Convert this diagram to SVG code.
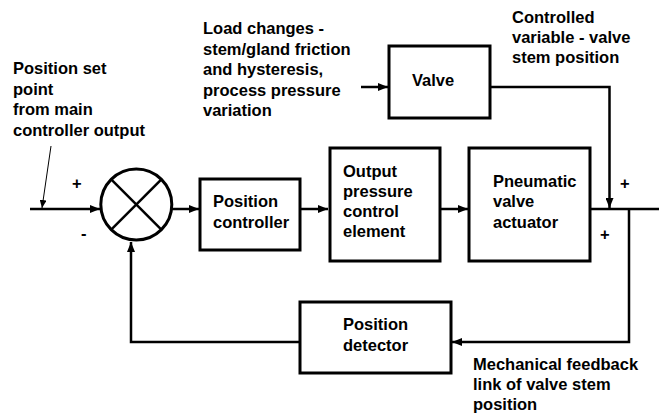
<svg xmlns="http://www.w3.org/2000/svg" width="659" height="414" viewBox="0 0 659 414">
<defs>
<style>
text{font-family:"Liberation Sans",Arial,sans-serif;font-weight:bold;font-size:16.5px;fill:#000}
.box{fill:#fff;stroke:#000;stroke-width:3}
.ln{fill:none;stroke:#000;stroke-width:2.5}
.thin{fill:none;stroke:#000;stroke-width:1}
</style>
<marker id="ah" markerWidth="10" markerHeight="8" refX="10" refY="4" orient="auto" markerUnits="userSpaceOnUse">
<path d="M0,0 L10,4 L0,8 Z" fill="#000"/>
</marker>
<marker id="ahs" markerWidth="8" markerHeight="7" refX="8" refY="3.5" orient="auto" markerUnits="userSpaceOnUse">
<path d="M0,0 L8,3.5 L0,7 Z" fill="#000"/>
</marker>
</defs>
<rect width="659" height="414" fill="#fff"/>

<g id="connectors">
<line class="ln" x1="30" y1="209" x2="100" y2="209" marker-end="url(#ah)"/>
<line class="thin" x1="51" y1="146" x2="42" y2="208" marker-end="url(#ahs)"/>
<line class="ln" x1="172" y1="209" x2="199" y2="209" marker-end="url(#ah)"/>
<line class="ln" x1="300" y1="209" x2="328" y2="209" marker-end="url(#ah)"/>
<line class="ln" x1="440" y1="209" x2="468" y2="209" marker-end="url(#ah)"/>
<line class="ln" x1="590" y1="209" x2="659" y2="209"/>
<line class="ln" x1="361" y1="87" x2="388" y2="87" marker-end="url(#ah)"/>
<polyline class="ln" points="490,87 609.5,87 609.5,208" marker-end="url(#ah)"/>
<polyline class="ln" points="629,209 629,342 452,342" marker-end="url(#ah)"/>
<polyline class="ln" points="300,342 131,342 131,242" marker-end="url(#ah)"/>
</g>

<g id="sum">
<circle cx="136.3" cy="204.5" r="35.5" fill="#fff" stroke="#000" stroke-width="3"/>
<line class="ln" x1="111.2" y1="179.4" x2="161.4" y2="229.6" stroke-width="3"/>
<line class="ln" x1="161.4" y1="179.4" x2="111.2" y2="229.6" stroke-width="3"/>
</g>

<g id="position-controller">
<rect class="box" x="200" y="179" width="100" height="71"/>
<text x="213" y="207">Position</text>
<text x="213" y="228">controller</text>
</g>

<g id="output-pressure">
<rect class="box" x="330" y="148" width="110" height="113"/>
<text x="343" y="177">Output</text>
<text x="343" y="197">pressure</text>
<text x="343" y="217">control</text>
<text x="343" y="237">element</text>
</g>

<g id="pneumatic-actuator">
<rect class="box" x="469" y="148" width="121" height="113"/>
<text x="493" y="187">Pneumatic</text>
<text x="493" y="207">valve</text>
<text x="493" y="228">actuator</text>
</g>

<g id="valve">
<rect class="box" x="389" y="46" width="101" height="72"/>
<text x="412" y="86">Valve</text>
</g>

<g id="position-detector">
<rect class="box" x="300" y="302" width="151" height="71"/>
<text x="343" y="330">Position</text>
<text x="343" y="351">detector</text>
</g>

<g id="labels">
<text x="13" y="74">Position set</text>
<text x="13" y="94.5">point</text>
<text x="13" y="115">from main</text>
<text x="13" y="135.5">controller output</text>
<text x="203" y="34">Load changes -</text>
<text x="203" y="54.5">stem/gland friction</text>
<text x="203" y="75">and hysteresis,</text>
<text x="203" y="95.5">process pressure</text>
<text x="203" y="116">variation</text>
<text x="512" y="23">Controlled</text>
<text x="512" y="43">variable - valve</text>
<text x="512" y="63">stem position</text>
<text x="473" y="370">Mechanical feedback</text>
<text x="473" y="390">link of valve stem</text>
<text x="473" y="410">position</text>
<text x="72" y="189">+</text>
<text x="81" y="239">-</text>
<text x="620" y="189">+</text>
<text x="600" y="240">+</text>
</g>
</svg>
